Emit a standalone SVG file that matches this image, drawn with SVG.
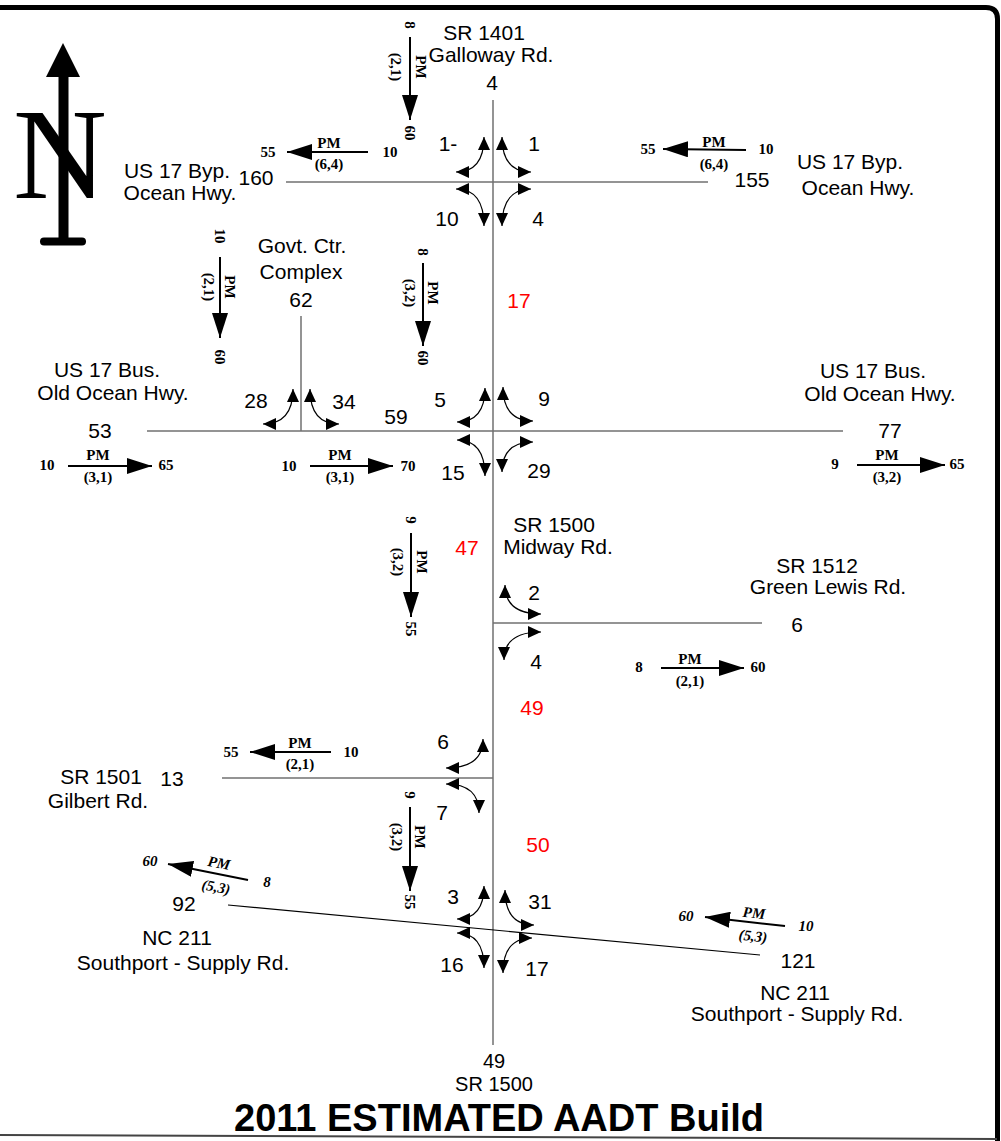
<svg xmlns="http://www.w3.org/2000/svg" width="1001" height="1141" viewBox="0 0 1001 1141">
<defs>
<style>
.lbl{font-family:"Liberation Sans",Arial,sans-serif;font-size:21px;text-anchor:middle;dominant-baseline:central;fill:#000}
.sm{font-size:20px}
.red{fill:#ff0000}
.pm{font-family:"Liberation Serif","Times New Roman",serif;font-weight:bold;font-size:15px;text-anchor:middle;dominant-baseline:central;fill:#000}
.it{font-style:italic}
.road{stroke:#707070;stroke-width:1.5;fill:none}
.turn{stroke:#000;stroke-width:1.2;fill:none;marker-start:url(#th);marker-end:url(#th)}
.pml{stroke:#000;stroke-width:2;fill:none;marker-end:url(#ph)}
.title{font-family:"Liberation Sans",Arial,sans-serif;font-size:38px;font-weight:bold;text-anchor:middle;dominant-baseline:central}
</style>
<marker id="th" viewBox="0 0 13 12" refX="13" refY="6" markerWidth="13" markerHeight="12" markerUnits="userSpaceOnUse" orient="auto-start-reverse"><path d="M0,0 L13,6 L0,12 z" fill="#000"/></marker>
<marker id="ph" viewBox="0 0 25 16" refX="25" refY="8" markerWidth="25" markerHeight="16" markerUnits="userSpaceOnUse" orient="auto"><path d="M0,0 L25,8 L0,16 z" fill="#000"/></marker>
</defs>
<rect width="1001" height="1141" fill="#fff"/>
<g id="frame">
<path d="M0,7.5 H986 Q997.5,7.5 997.5,19 V1141" fill="none" stroke="#000" stroke-width="5"/>
<line x1="0" y1="1135" x2="997" y2="1139" stroke="#444" stroke-width="2"/>
</g>
<g id="north">
<text x="60" y="198" font-family="Liberation Serif,'Times New Roman',serif" font-size="130" text-anchor="middle">N</text>
<rect x="58.5" y="74" width="10" height="166" fill="#000"/>
<polygon points="63,43 46,77 80,77" fill="#000"/>
<line x1="44" y1="241.5" x2="82" y2="241.5" stroke="#000" stroke-width="8" stroke-linecap="round"/>
</g>
<g id="roads">
<line class="road" x1="493" y1="100" x2="493" y2="1045"/>
<line class="road" x1="286" y1="182" x2="708" y2="182"/>
<line class="road" x1="147" y1="431" x2="843" y2="431"/>
<line class="road" x1="301" y1="316" x2="301" y2="431"/>
<line class="road" x1="493" y1="623" x2="762" y2="623"/>
<line class="road" x1="222" y1="778" x2="493" y2="778"/>
<line x1="228" y1="905" x2="760" y2="955" stroke="#000" stroke-width="1.2"/>
</g>
<g id="connectors">
<path class="turn" d="M484,137 Q484,172 456,172"/>
<path class="turn" d="M502,137 Q502,172 531,172"/>
<path class="turn" d="M456,189 Q484,189 484,226"/>
<path class="turn" d="M531,189 Q502,189 502,226"/>
<path class="turn" d="M485,388 Q485,422 457,422"/>
<path class="turn" d="M503,387 Q503,421 533,421"/>
<path class="turn" d="M457,440 Q485,440 485,476"/>
<path class="turn" d="M533,442 Q502,442 502,472"/>
<path class="turn" d="M293,389 Q293,424 263,424"/>
<path class="turn" d="M310,389 Q310,424 339,424"/>
<path class="turn" d="M505,585 Q505,614 541,614"/>
<path class="turn" d="M541,632 Q504,632 504,660"/>
<path class="turn" d="M483,739 Q483,768 446,768"/>
<path class="turn" d="M446,784 Q479,784 479,813"/>
<path class="turn" d="M484,886 Q484,919 457,919"/>
<path class="turn" d="M505,890 Q505,925 534,925"/>
<path class="turn" d="M457,933 Q484,933 484,968"/>
<path class="turn" d="M532,938 Q503,938 503,973"/>
</g>
<g id="pm-arrows">
<line class="pml" x1="410" y1="37" x2="410" y2="120"/>
<line class="pml" x1="368" y1="152" x2="287" y2="152"/>
<line class="pml" x1="746" y1="150" x2="663" y2="149"/>
<line class="pml" x1="220" y1="257" x2="220" y2="338"/>
<line class="pml" x1="423" y1="263" x2="423" y2="346"/>
<line class="pml" x1="68" y1="466" x2="152" y2="466"/>
<line class="pml" x1="310" y1="466" x2="393" y2="466"/>
<line class="pml" x1="857" y1="465" x2="945" y2="465"/>
<line class="pml" x1="411" y1="533" x2="411" y2="617"/>
<line class="pml" x1="661" y1="668" x2="744" y2="668"/>
<line class="pml" x1="331" y1="752" x2="250" y2="752"/>
<line class="pml" x1="410" y1="807" x2="410" y2="891"/>
<line class="pml" x1="248" y1="880" x2="168" y2="864"/>
<line class="pml" x1="785" y1="926" x2="705" y2="917"/>
</g>
<g id="pm-labels">
<text class="pm" x="410" y="25" transform="rotate(90 410 25)">8</text>
<text class="pm" x="410" y="133" transform="rotate(90 410 133)">60</text>
<text class="pm" x="421" y="67" transform="rotate(90 421 67)">PM</text>
<text class="pm" x="396" y="67" transform="rotate(90 396 67)">(2,1)</text>

<text class="pm" x="268" y="152">55</text>
<text class="pm" x="390" y="152">10</text>
<text class="pm" x="329" y="143">PM</text>
<text class="pm" x="329" y="164">(6,4)</text>

<text class="pm" x="648" y="149">55</text>
<text class="pm" x="766" y="149">10</text>
<text class="pm" x="714" y="142">PM</text>
<text class="pm" x="714" y="164">(6,4)</text>

<text class="pm" x="220" y="236" transform="rotate(90 220 236)">10</text>
<text class="pm" x="220" y="357" transform="rotate(90 220 357)">60</text>
<text class="pm" x="230" y="287" transform="rotate(90 230 287)">PM</text>
<text class="pm" x="209" y="287" transform="rotate(90 209 287)">(2,1)</text>

<text class="pm" x="423" y="252" transform="rotate(90 423 252)">8</text>
<text class="pm" x="423" y="358" transform="rotate(90 423 358)">60</text>
<text class="pm" x="433" y="293" transform="rotate(90 433 293)">PM</text>
<text class="pm" x="410" y="293" transform="rotate(90 410 293)">(3,2)</text>

<text class="pm" x="47" y="465">10</text>
<text class="pm" x="166" y="465">65</text>
<text class="pm" x="98" y="455">PM</text>
<text class="pm" x="98" y="477">(3,1)</text>

<text class="pm" x="289" y="466">10</text>
<text class="pm" x="408" y="466">70</text>
<text class="pm" x="340" y="455">PM</text>
<text class="pm" x="340" y="477">(3,1)</text>

<text class="pm" x="835" y="464">9</text>
<text class="pm" x="957" y="464">65</text>
<text class="pm" x="887" y="455">PM</text>
<text class="pm" x="887" y="477">(3,2)</text>

<text class="pm" x="411" y="520" transform="rotate(90 411 520)">9</text>
<text class="pm" x="411" y="629" transform="rotate(90 411 629)">55</text>
<text class="pm" x="422" y="562" transform="rotate(90 422 562)">PM</text>
<text class="pm" x="398" y="562" transform="rotate(90 398 562)">(3,2)</text>

<text class="pm" x="639" y="667">8</text>
<text class="pm" x="758" y="667">60</text>
<text class="pm" x="690" y="659">PM</text>
<text class="pm" x="690" y="681">(2,1)</text>

<text class="pm" x="231" y="752">55</text>
<text class="pm" x="351" y="752">10</text>
<text class="pm" x="300" y="743">PM</text>
<text class="pm" x="300" y="764">(2,1)</text>

<text class="pm" x="410" y="795" transform="rotate(90 410 795)">9</text>
<text class="pm" x="410" y="902" transform="rotate(90 410 902)">55</text>
<text class="pm" x="420" y="837" transform="rotate(90 420 837)">PM</text>
<text class="pm" x="397" y="837" transform="rotate(90 397 837)">(3,2)</text>

<text class="pm it" x="150" y="861">60</text>
<text class="pm it" x="267" y="882">8</text>
<text class="pm it" x="219" y="863" transform="rotate(11 219 863)">PM</text>
<text class="pm it" x="216" y="887" transform="rotate(11 216 887)">(5,3)</text>

<text class="pm it" x="686" y="916">60</text>
<text class="pm it" x="806" y="926">10</text>
<text class="pm it" x="754" y="913" transform="rotate(6 754 913)">PM</text>
<text class="pm it" x="753" y="936" transform="rotate(6 753 936)">(5,3)</text>
</g>
<g id="node-sr1401">
<text class="lbl" x="484" y="32">SR 1401</text>
<text class="lbl" x="491" y="54">Galloway Rd.</text>
<text class="lbl" x="492" y="82">4</text>
</g>
<g id="node-int1">
<text class="lbl" x="448" y="143">1-</text>
<text class="lbl" x="534" y="143">1</text>
<text class="lbl" x="447" y="218">10</text>
<text class="lbl" x="538" y="218">4</text>
</g>
<g id="node-byp-west">
<text class="lbl" x="177" y="170">US 17 Byp.</text>
<text class="lbl" x="180" y="192">Ocean Hwy.</text>
<text class="lbl" x="256" y="177">160</text>
</g>
<g id="node-byp-east">
<text class="lbl" x="752" y="179">155</text>
<text class="lbl" x="850" y="161">US 17 Byp.</text>
<text class="lbl" x="858" y="187">Ocean Hwy.</text>
</g>
<g id="node-govt">
<text class="lbl" x="302" y="245">Govt. Ctr.</text>
<text class="lbl" x="301" y="271">Complex</text>
<text class="lbl" x="301" y="299">62</text>
<text class="lbl" x="256" y="400">28</text>
<text class="lbl" x="344" y="401">34</text>
</g>
<g id="node-bus-west">
<text class="lbl" x="107" y="369">US 17 Bus.</text>
<text class="lbl" x="113" y="392">Old Ocean Hwy.</text>
<text class="lbl" x="100" y="430">53</text>
<text class="lbl" x="396" y="416">59</text>
</g>
<g id="node-int2">
<text class="lbl" x="440" y="399">5</text>
<text class="lbl" x="544" y="398">9</text>
<text class="lbl" x="453" y="472">15</text>
<text class="lbl" x="539" y="470">29</text>
<text class="lbl red" x="519" y="300">17</text>
</g>
<g id="node-bus-east">
<text class="lbl" x="873" y="370">US 17 Bus.</text>
<text class="lbl" x="880" y="393">Old Ocean Hwy.</text>
<text class="lbl" x="890" y="430">77</text>
</g>
<g id="node-midway">
<text class="lbl" x="554" y="524">SR 1500</text>
<text class="lbl" x="558" y="546">Midway Rd.</text>
<text class="lbl red" x="467" y="547">47</text>
</g>
<g id="node-green-lewis">
<text class="lbl" x="817" y="565">SR 1512</text>
<text class="lbl" x="828" y="586">Green Lewis Rd.</text>
<text class="lbl" x="797" y="624">6</text>
<text class="lbl" x="534" y="592">2</text>
<text class="lbl" x="536" y="661">4</text>
<text class="lbl red" x="532" y="707">49</text>
</g>
<g id="node-gilbert">
<text class="lbl" x="101" y="776">SR 1501</text>
<text class="lbl" x="172" y="778">13</text>
<text class="lbl" x="98" y="800">Gilbert Rd.</text>
<text class="lbl" x="443" y="741">6</text>
<text class="lbl" x="442" y="812">7</text>
<text class="lbl red" x="538" y="844">50</text>
</g>
<g id="node-nc211-west">
<text class="lbl" x="184" y="903">92</text>
<text class="lbl" x="177" y="937">NC 211</text>
<text class="lbl" x="183" y="962">Southport - Supply Rd.</text>
</g>
<g id="node-int-nc211">
<text class="lbl" x="453" y="896">3</text>
<text class="lbl" x="540" y="901">31</text>
<text class="lbl" x="452" y="964">16</text>
<text class="lbl" x="537" y="968">17</text>
</g>
<g id="node-nc211-east">
<text class="lbl" x="798" y="960">121</text>
<text class="lbl" x="795" y="992">NC 211</text>
<text class="lbl" x="797" y="1013">Southport - Supply Rd.</text>
</g>
<g id="node-sr1500-south">
<text class="lbl sm" x="494" y="1061">49</text>
<text class="lbl sm" x="494" y="1084">SR 1500</text>
</g>
<g id="title">
<text class="title" x="499" y="1118">2011 ESTIMATED AADT Build</text>
</g>
</svg>
